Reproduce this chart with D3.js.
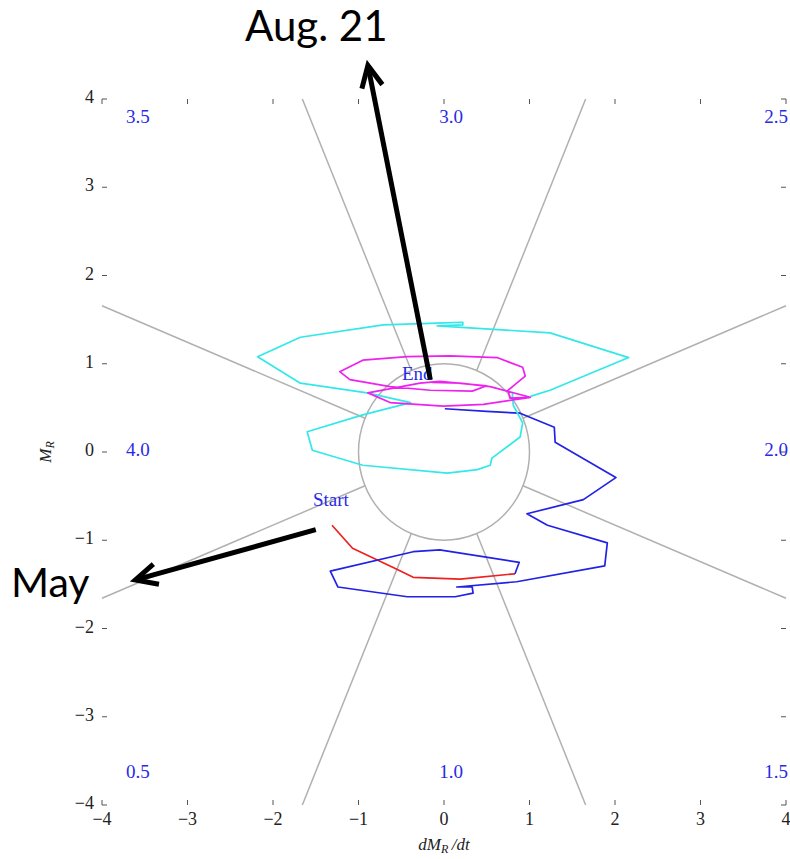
<!DOCTYPE html>
<html>
<head>
<meta charset="utf-8">
<script src="https://cdn.jsdelivr.net/npm/d3@7"></script>
<style>
  body { margin: 0; background: #fff; }
  text { font-family: "Liberation Serif", "DejaVu Serif", serif; }
</style>
</head>
<body>
<svg id="chart" width="790" height="859"></svg>
<script>
// Axis ticks
const xTicks = [-4, -3, -2, -1, 0, 1, 2, 3, 4];
const yTicks = [-4, -3, -2, -1, 0, 1, 2, 3, 4];

// Phase labels around the diagram (phase 2.0 on the right, increasing anticlockwise)
const phases = [0.5, 1.0, 1.5, 2.0, 2.5, 3.0, 3.5, 4.0];

// Sector divider angles (degrees)
const dividerAngles = [22.5, 67.5, 112.5, 157.5, 202.5, 247.5, 292.5, 337.5];

// Trajectory in (dM_R/dt, M_R), one array per month
const mayTrack = [
  [-1.31, -0.83], [-1.07, -1.09], [-0.57, -1.32], [-0.36, -1.42],
  [0.19, -1.44], [0.83, -1.38]
];
const juneTrack = [
  [0.83, -1.38], [0.88, -1.25], [-0.05, -1.11], [-0.36, -1.13],
  [-1.33, -1.35], [-1.24, -1.53], [-0.43, -1.64], [0.13, -1.64],
  [0.34, -1.60], [0.33, -1.53], [0.15, -1.53], [0.85, -1.47],
  [1.88, -1.29], [1.91, -1.03], [1.21, -0.83], [0.97, -0.70],
  [1.63, -0.54], [2.01, -0.29], [1.30, 0.11], [1.29, 0.28],
  [0.89, 0.44], [0.50, 0.46], [0.01, 0.49]
];
const julyTrack = [
  [1.01, 0.63], [1.24, 0.70], [2.16, 1.07], [1.24, 1.35],
  [-0.08, 1.43], [0.22, 1.44], [0.22, 1.47], [-0.08, 1.46],
  [-0.71, 1.44], [-1.68, 1.30], [-2.18, 1.08], [-1.68, 0.78],
  [-0.90, 0.67], [-0.39, 0.56], [-0.95, 0.42], [-1.60, 0.23],
  [-1.54, 0.02], [-0.95, -0.15], [0.04, -0.24], [0.39, -0.20],
  [0.54, -0.15], [0.56, -0.07], [0.89, 0.17], [0.92, 0.33],
  [0.81, 0.53], [0.80, 0.67]
];
const augustTrack = [
  [1.01, 0.62], [0.77, 0.61], [0.75, 0.70], [0.85, 0.78],
  [0.95, 0.86], [0.92, 0.96], [0.62, 1.07], [0.07, 1.09],
  [-0.43, 1.08], [-0.95, 1.04], [-1.22, 0.91], [-1.10, 0.82],
  [-0.63, 0.74], [-0.16, 0.70], [0.33, 0.69], [0.50, 0.75],
  [-0.05, 0.80], [-0.28, 0.78], [-0.89, 0.67], [-0.63, 0.56],
  [-0.01, 0.52], [0.46, 0.54], [1.01, 0.62], [0.54, 0.74],
  [0.19, 0.78], [-0.14, 0.79]
];

const tracks = [
  { data: mayTrack, color: "#ee2020" },
  { data: juneTrack, color: "#2222e6" },
  { data: julyTrack, color: "#33e8e8" },
  { data: augustTrack, color: "#ee22ee" }
];

// Callout arrows (tail, head) in data units
const callouts = [
  { text: "Aug. 21", tail: [-0.16, 0.82], head: [-0.89, 4.38] },
  { text: "May", tail: [-1.50, -0.88], head: [-3.61, -1.45] }
];

const svg = d3.select("#chart");
const x = d3.scaleLinear().domain([-4, 4]).range([102, 786]);
const y = d3.scaleLinear().domain([-4, 4]).range([805, 99]);

const tickColor = "#555";
const labelBlue = "#2a2ae6";

// Sector dividers from the unit circle out to the frame
const g = svg.append("g");
dividerAngles.forEach(a => {
  const r = a * Math.PI / 180;
  const c = Math.cos(r), s = Math.sin(r);
  const t = 4 / Math.max(Math.abs(c), Math.abs(s));
  g.append("line")
    .attr("x1", x(c)).attr("y1", y(s))
    .attr("x2", x(c * t)).attr("y2", y(s * t))
    .attr("stroke", "#b0b0b0").attr("stroke-width", 1.5);
});

// Unit circle
g.append("ellipse")
  .attr("cx", x(0)).attr("cy", y(0))
  .attr("rx", x(1) - x(0)).attr("ry", y(0) - y(1))
  .attr("fill", "none").attr("stroke", "#b0b0b0").attr("stroke-width", 1.5);

// Inward tick marks on all four sides
const tk = 5;
xTicks.forEach(v => {
  g.append("line").attr("x1", x(v)).attr("x2", x(v)).attr("y1", y(-4)).attr("y2", y(-4) - tk)
    .attr("stroke", tickColor).attr("stroke-width", 1);
  g.append("line").attr("x1", x(v)).attr("x2", x(v)).attr("y1", y(4)).attr("y2", y(4) + tk)
    .attr("stroke", tickColor).attr("stroke-width", 1);
});
yTicks.forEach(v => {
  g.append("line").attr("y1", y(v)).attr("y2", y(v)).attr("x1", x(-4)).attr("x2", x(-4) + tk)
    .attr("stroke", tickColor).attr("stroke-width", 1);
  g.append("line").attr("y1", y(v)).attr("y2", y(v)).attr("x1", x(4)).attr("x2", x(4) - tk)
    .attr("stroke", tickColor).attr("stroke-width", 1);
});

const fmt = v => (v < 0 ? "\u2212" + Math.abs(v) : String(v));

// Tick labels
xTicks.forEach(v => {
  svg.append("text").attr("x", x(v)).attr("y", y(-4) + 16)
    .attr("text-anchor", "middle").attr("dominant-baseline", "middle")
    .attr("font-size", 18).attr("fill", "#222").text(fmt(v));
});
yTicks.forEach(v => {
  svg.append("text").attr("x", x(-4) - 8).attr("y", y(v))
    .attr("text-anchor", "end").attr("dominant-baseline", "middle")
    .attr("font-size", 18).attr("fill", "#222").text(fmt(v));
});

// Axis titles
const xt = svg.append("text").attr("x", x(0)).attr("y", 846)
  .attr("text-anchor", "middle").attr("dominant-baseline", "middle")
  .attr("font-size", 17).attr("font-style", "italic").attr("fill", "#222");
xt.append("tspan").text("dM");
xt.append("tspan").attr("font-size", 12).attr("dy", 4).text("R");
xt.append("tspan").attr("dy", -4).text("\u2009/dt");

const yt = svg.append("text")
  .attr("transform", `translate(47,${y(0)}) rotate(-90)`)
  .attr("text-anchor", "middle").attr("dominant-baseline", "middle")
  .attr("font-size", 17).attr("font-style", "italic").attr("fill", "#222");
yt.append("tspan").text("M");
yt.append("tspan").attr("font-size", 12).attr("dy", 4).text("R");

// Phase labels
phases.forEach(p => {
  const a = (p - 2) * Math.PI / 2;
  const c = Math.round(Math.cos(a) * 100) / 100, s = Math.round(Math.sin(a) * 100) / 100;
  let px, anchor;
  if (c < -0.1) { px = x(-4) + 24; anchor = "start"; }
  else if (c > 0.1) { px = x(4) + 2; anchor = "end"; }
  else { px = x(0) + 7; anchor = "middle"; }
  const py = s > 0.1 ? y(4) + 20 : (s < -0.1 ? y(-4) - 31 : y(0));
  svg.append("text").attr("x", px).attr("y", py)
    .attr("text-anchor", anchor).attr("dominant-baseline", "middle")
    .attr("font-size", 19).attr("fill", labelBlue).text(p.toFixed(1));
});

// Trajectory
const line = d3.line().x(d => x(d[0])).y(d => y(d[1]));
tracks.forEach(t => {
  svg.append("path").attr("d", line(t.data))
    .attr("fill", "none").attr("stroke", t.color)
    .attr("stroke-width", 1.7).attr("stroke-linejoin", "round");
});

// Start / End markers
const startPt = mayTrack[0];
const endPt = augustTrack[augustTrack.length - 1];
svg.append("text").attr("x", x(startPt[0]) - 19).attr("y", y(startPt[1]) - 19)
  .attr("font-size", 19).attr("fill", labelBlue).text("Start");
svg.append("text").attr("x", x(endPt[0]) - 30).attr("y", y(endPt[1]) - 2)
  .attr("font-size", 19).attr("fill", labelBlue).text("End");

// Callout arrows
callouts.forEach(cl => {
  const x1 = x(cl.tail[0]), y1 = y(cl.tail[1]);
  const x2 = x(cl.head[0]), y2 = y(cl.head[1]);
  const ang = Math.atan2(y2 - y1, x2 - x1);
  const L = 24, spread = 0.45;
  svg.append("line").attr("x1", x1).attr("y1", y1).attr("x2", x2).attr("y2", y2)
    .attr("stroke", "#000").attr("stroke-width", 5);
  const p1 = [x2 - L * Math.cos(ang - spread), y2 - L * Math.sin(ang - spread)];
  const p2 = [x2 - L * Math.cos(ang + spread), y2 - L * Math.sin(ang + spread)];
  svg.append("path").attr("d", `M${p1}L${x2},${y2}L${p2}`)
    .attr("fill", "none").attr("stroke", "#000").attr("stroke-width", 5)
    .attr("stroke-linejoin", "miter");
});

// Callout captions
svg.append("text").attr("x", 245).attr("y", 41)
  .style("font-family", "Lato, 'Open Sans', sans-serif").attr("font-size", 42)
  .attr("fill", "#000").text(callouts[0].text);
svg.append("text").attr("x", 11).attr("y", 597)
  .style("font-family", "Lato, 'Open Sans', sans-serif").attr("font-size", 41)
  .attr("fill", "#000").text(callouts[1].text);
</script>
</body>
</html>
